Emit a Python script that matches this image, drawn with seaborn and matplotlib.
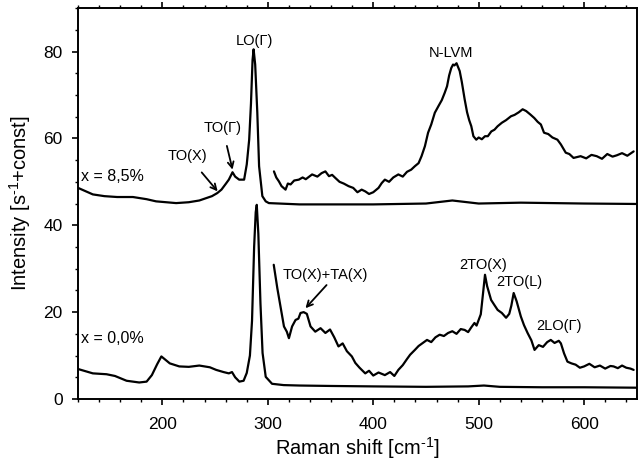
import matplotlib
matplotlib.use("Agg")
import matplotlib.pyplot as plt
import seaborn as sns
import pandas as pd
from matplotlib.ticker import MultipleLocator

# ---- data ----
x0_full = [120,134,147,155,166,178,185,190,195,199,203,207,216,225,235,245,251,258,263,266,269,273,277,280,283,285,287,288.5,289.5,291,293,295,298,304,315,330,360,400,450,490,505,520,560,600,650]
y0_full = [6.9,5.9,5.7,5.3,4.2,3.8,4.0,5.5,8.0,9.8,9.0,8.2,7.5,7.4,7.7,7.3,6.7,6.2,5.9,6.2,5.0,4.0,4.2,6.0,10,18,35,43,44.7,38,22,10.6,5.1,3.5,3.2,3.1,3.0,2.9,2.8,2.9,3.1,2.8,2.7,2.7,2.6]

x85_full = [120,134,145,157,172,185,194,213,225,235,247,252,256,260,263,266.5,269,272.8,277.5,280,282.3,284,285.5,286.5,288,290,291.7,294.8,298,301,330,400,450,475,500,540,600,650]
y85_full = [48.6,47.1,46.7,46.5,46.5,46.0,45.5,45.1,45.3,45.7,46.7,47.4,48.2,49.5,50.5,52.2,51.2,50.5,50.5,54,59.7,68,78,80.5,77,66,53.6,46.7,45.5,45.1,44.8,44.8,45.0,45.7,45.0,45.2,45.0,44.9]

x85_mag = [305.8,308,310.5,313,316.8,319,321.6,325,329.4,333,336,342,347,351,354.6,358,361,364,368,372,376.6,381,385,389,392.4,396,400,405,408,411,415,419,423.8,428,432,436,439.5,443,445.8,449,452,455,458.4,462,465,467.8,470,472,474,475.7,477,479,482,484,486.7,489,491,493,495,497.7,500,503,506,508.7,512,515,518,522,526,530.7,534,538,541.7,545,549,552.7,556,559,562,566,570,574.7,578,582.6,586,590,596.7,602,607,612,617,622,627,631,636,641,647]
y85_mag = [52.4,51.0,50.1,49.0,48.2,49.6,49.4,50.3,50.5,51.0,50.6,51.7,51.2,52.0,52.4,51.3,51.6,50.9,50.0,49.6,49.0,48.6,47.6,48.2,47.8,47.2,47.6,48.6,49.7,50.5,50.0,51.0,51.7,51.2,52.3,52.8,53.6,54.3,55.9,58.2,61.3,63.2,65.9,67.5,68.8,70.5,72.0,74.5,76.2,77.0,76.8,77.3,75.5,73.0,69.0,66.0,64.2,62.8,60.5,59.7,60.2,59.8,60.5,60.5,61.6,62.0,62.8,63.6,64.2,65.1,65.4,66.0,66.7,66.3,65.5,64.7,63.8,63.2,61.3,61.0,60.2,59.7,58.6,56.7,56.4,55.5,55.9,55.4,56.2,55.9,55.3,56.4,55.8,56.1,56.6,56.0,57.0]

x0_mag = [305.6,309,312,315.3,318,320,323,326.3,329,331,334,337,340.5,345,350,354.6,359,363,367,371,375,379.7,383,387,392.4,396,400,405,411,416,420,423.8,428,432,435,439.5,443,447,451,455,459,463,467,471,475,479,483,486.7,490,493,496,498,500,502,504,506,508,511.8,515,518,522,526,529,531,533.2,536,540,543,546.4,550,553,557,561,565,568.4,572,576,578,581,584.2,588,592,596,600,605,610,615,620,625,628,632,636,640,644,647]
y0_mag = [30.9,25.5,21.3,16.7,15.5,14.0,16.7,18.2,18.5,19.8,20.0,19.6,16.7,15.5,16.3,15.2,16.0,14.2,12.1,12.8,11.0,9.8,8.3,7.2,5.9,6.5,5.4,6.1,5.5,6.2,5.3,6.7,7.8,9.2,10.2,11.3,12.2,12.9,13.6,13.1,14.2,14.8,14.5,15.2,15.6,15.0,16.1,15.9,15.4,16.5,17.5,16.9,18.2,19.5,24.0,28.6,26.0,22.8,21.6,20.5,19.8,18.7,19.6,21.5,24.4,22.5,19.0,17.0,15.2,13.5,11.3,12.4,12.0,13.1,13.6,12.9,13.4,12.8,10.5,8.6,8.2,7.9,7.2,7.5,8.1,7.3,7.7,7.0,7.6,7.5,7.1,7.7,7.2,7.0,6.7]

sample_labels = ["x = 8,5%", "x = 0,0%"]
peak_labels = ["LO(Γ)", "TO(Γ)", "TO(X)", "N-LVM", "TO(X)+TA(X)", "2TO(X)", "2TO(L)", "2LO(Γ)"]

sns.set_style("ticks")
plt.rcParams['font.family'] = ['Liberation Sans', 'DejaVu Sans']
plt.rcParams['mathtext.fontset'] = 'custom'
plt.rcParams['mathtext.rm'] = 'Liberation Sans'
plt.rcParams['mathtext.it'] = 'Liberation Sans'
plt.rcParams['mathtext.bf'] = 'Liberation Sans:bold'
plt.rcParams['text.color'] = 'black'
plt.rcParams['axes.labelcolor'] = 'black'
plt.rcParams['xtick.color'] = 'black'
plt.rcParams['ytick.color'] = 'black'
plt.rcParams['axes.edgecolor'] = 'black'

fig = plt.figure(figsize=(6.4, 4.61), dpi=100)
ax = fig.add_axes([0.122, 0.1345, 0.873, 0.848])

series = [(x0_full, y0_full), (x85_full, y85_full), (x85_mag, y85_mag), (x0_mag, y0_mag)]
for i, (xs, ys) in enumerate(series):
    df = pd.DataFrame({"x": xs, "y": ys})
    sns.lineplot(data=df, x="x", y="y", ax=ax, color="black", lw=1.6,
                 sort=False, estimator=None)

ax.set_xlim(120, 650)
ax.set_ylim(0, 90)
ax.xaxis.set_major_locator(MultipleLocator(100))
ax.xaxis.set_minor_locator(MultipleLocator(20))
ax.yaxis.set_major_locator(MultipleLocator(20))
ax.yaxis.set_minor_locator(MultipleLocator(5))
ax.tick_params(axis='both', which='major', direction='out', length=4, width=1.2,
               labelsize=12.5, top=True, right=False, color='black', labelcolor='black')
ax.tick_params(axis='x', which='major', pad=9)
ax.tick_params(axis='y', which='major', pad=7)
ax.tick_params(axis='both', which='minor', direction='out', length=2.5, width=1.0,
               top=True, right=False, color='black')
for s in ax.spines.values():
    s.set_linewidth(1.4)
    s.set_color('black')

ax.set_xlabel("Raman shift [cm$^{\\text{-1}}$]", fontsize=14.5, labelpad=2, color='black')
ax.set_ylabel("Intensity [s$^{\\text{-1}}$+const]", fontsize=14.5, labelpad=7.5, color='black')

fs = 10.5
ax.text(123, 51.3, sample_labels[0], fontsize=11.5, ha='left', va='center')
ax.text(123, 14.0, sample_labels[1], fontsize=11.5, ha='left', va='center')
ax.text(287, 82.5, peak_labels[0], fontsize=fs, ha='center', va='center')
ax.annotate(peak_labels[1], xy=(266.5, 52.8), xytext=(257, 62.5), fontsize=fs,
            ha='center', va='center',
            arrowprops=dict(arrowstyle='->', lw=1.3, color='black', shrinkA=6, shrinkB=0))
ax.annotate(peak_labels[2], xy=(252.4, 47.8), xytext=(224, 56), fontsize=fs,
            ha='center', va='center',
            arrowprops=dict(arrowstyle='->', lw=1.3, color='black', shrinkA=6, shrinkB=0))
ax.text(474, 79.7, peak_labels[3], fontsize=fs, ha='center', va='center')
ax.annotate(peak_labels[4], xy=(335.7, 20.9), xytext=(314, 28.6), fontsize=fs,
            ha='left', va='center',
            arrowprops=dict(arrowstyle='->', lw=1.3, color='black', shrinkA=0, shrinkB=0,
                            relpos=(0.55, 0.0)))
ax.text(504, 30.9, peak_labels[5], fontsize=fs, ha='center', va='center')
ax.text(538.5, 27, peak_labels[6], fontsize=fs, ha='center', va='center')
ax.text(576, 16.7, peak_labels[7], fontsize=fs, ha='center', va='center')

fig.savefig("out.png", dpi=100)
